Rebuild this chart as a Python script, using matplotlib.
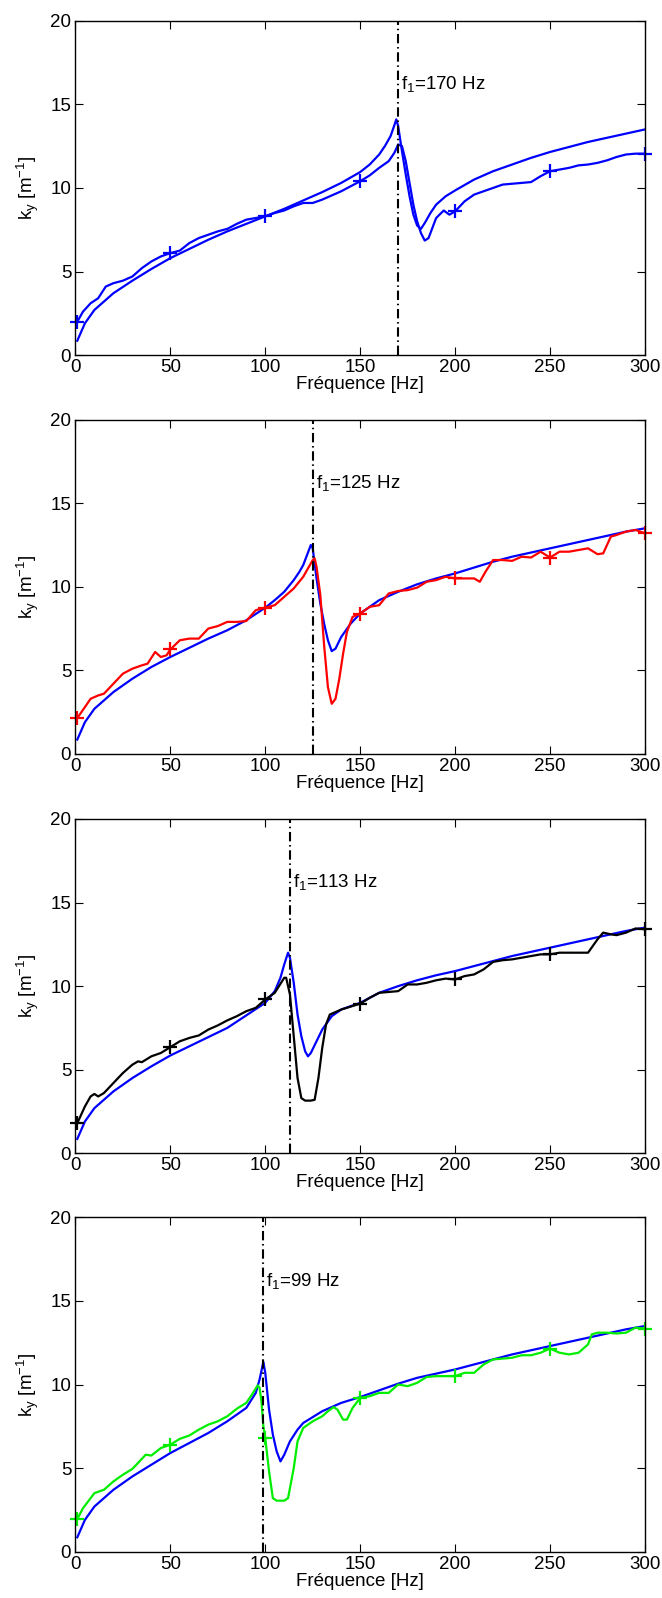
import matplotlib
matplotlib.use("Agg")
import matplotlib.pyplot as plt

# ── Style (MATLAB-like) ───────────────────────────────────────────────────────
FONT = "Liberation Sans"
FS = 13.5

plt.rcParams.update({
    "font.family": FONT,
    "font.size": FS,
    "mathtext.fontset": "custom",
    "mathtext.rm": FONT,
    "mathtext.default": "regular",
    "xtick.direction": "in",
    "ytick.direction": "in",
    "xtick.top": True,
    "ytick.right": True,
    "axes.linewidth": 1.0,
})

# ── Données ──────────────────────────────────────────────────────────────────
F1_VALUES = [170, 125, 113, 99]
MEAS_COLORS = ["#0000ff", "#ff0000", "#000000", "#00ee00"]
MODEL_COLOR = "#0000ff"
MARK_F = [1, 50, 100, 150, 200, 250, 300]

# panel 1 : f1 = 170 Hz
f_mod1 = [1, 5, 10, 20, 30, 40, 50, 60, 70, 80, 90, 100, 110, 120, 130, 140, 150,
          155, 160, 163, 166, 168, 169, 170, 172, 174, 176, 178, 180, 182, 184, 187,
          190, 195, 200, 210, 220, 230, 240, 250, 260, 270, 280, 290, 300]
k_mod1 = [0.86, 1.9, 2.7, 3.7, 4.45, 5.15, 5.8, 6.35, 6.9, 7.4, 7.85, 8.3, 8.75, 9.25,
          9.75, 10.3, 10.95, 11.4, 12.0, 12.5, 13.1, 13.75, 14.1, 13.7, 12.2, 10.8, 9.5,
          8.4, 7.75, 7.55, 7.9, 8.5, 9.0, 9.5, 9.85, 10.5, 11.0, 11.4, 11.8, 12.15, 12.45,
          12.75, 13.0, 13.25, 13.5]
f_mes1 = [1, 4, 8, 12, 16, 20, 25, 30, 35, 40, 45, 50, 55, 60, 65, 70, 75, 80, 85, 90,
          95, 100, 105, 110, 115, 120, 125, 130, 135, 140, 145, 150, 155, 160, 165, 168,
          170, 172, 174, 176, 178, 180, 182, 184, 186, 188, 190, 194, 197, 200, 205, 210,
          215, 220, 225, 230, 235, 240, 245, 250, 255, 260, 265, 270, 275, 280, 285, 290,
          295, 300]
k_mes1 = [2.0, 2.6, 3.1, 3.4, 4.1, 4.3, 4.45, 4.7, 5.2, 5.6, 5.9, 6.1, 6.25, 6.7, 7.0,
          7.2, 7.4, 7.55, 7.85, 8.1, 8.2, 8.3, 8.5, 8.65, 8.9, 9.1, 9.1, 9.3, 9.55, 9.8,
          10.1, 10.4, 10.75, 11.2, 11.6, 12.1, 12.6, 12.5, 11.6, 10.3, 9.0, 8.0, 7.3, 6.85,
          7.0, 7.6, 8.2, 8.65, 8.4, 8.6, 9.2, 9.6, 9.8, 10.0, 10.2, 10.25, 10.3, 10.35, 10.7,
          11.0, 11.1, 11.2, 11.35, 11.4, 11.5, 11.65, 11.85, 12.0, 12.05, 12.05]

# panel 2 : f1 = 125 Hz
f_mod2 = [1, 5, 10, 20, 30, 40, 50, 60, 70, 80, 90, 100, 105, 110, 115, 118, 120, 122,
          124, 125, 127, 129, 131, 133, 135, 137, 140, 145, 150, 160, 170, 180, 190, 200,
          210, 220, 230, 240, 250, 260, 270, 280, 290, 300]
k_mod2 = [0.86, 1.9, 2.7, 3.7, 4.5, 5.2, 5.8, 6.35, 6.9, 7.4, 8.0, 8.75, 9.2, 9.7, 10.4,
          10.9, 11.3, 11.9, 12.5, 12.3, 10.5, 9.0, 7.8, 6.8, 6.15, 6.3, 7.0, 7.8, 8.4, 9.2,
          9.7, 10.15, 10.5, 10.8, 11.15, 11.5, 11.8, 12.05, 12.3, 12.55, 12.8, 13.05, 13.3,
          13.5]
f_mes2 = [1, 5, 8, 12, 15, 20, 25, 30, 35, 38, 42, 45, 48, 50, 55, 60, 65, 70, 75, 80,
          85, 90, 95, 100, 105, 110, 115, 120, 123, 125, 126, 127, 129, 131, 133, 135, 137,
          139, 141, 143, 146, 150, 155, 160, 165, 170, 175, 180, 185, 190, 195, 200, 205,
          210, 213, 216, 220, 225, 230, 235, 240, 245, 250, 255, 260, 265, 270, 275, 278,
          282, 285, 290, 295, 300]
k_mes2 = [2.15, 2.8, 3.3, 3.5, 3.6, 4.2, 4.8, 5.1, 5.3, 5.4, 6.1, 5.8, 5.9, 6.25, 6.8,
          6.9, 6.9, 7.5, 7.65, 7.9, 7.9, 7.95, 8.6, 8.75, 8.9, 9.4, 9.9, 10.6, 11.2, 11.6,
          11.7, 11.2, 9.5, 6.5, 4.0, 3.0, 3.3, 4.5, 6.0, 7.3, 8.2, 8.4, 8.8, 8.9, 9.6, 9.75,
          9.8, 9.95, 10.3, 10.4, 10.6, 10.5, 10.5, 10.5, 10.3, 10.9, 11.6, 11.6, 11.55, 11.8,
          11.75, 12.1, 11.75, 12.1, 12.1, 12.2, 12.3, 11.95, 12.0, 13.0, 13.1, 13.3, 13.4,
          13.2]

# panel 3 : f1 = 113 Hz
f_mod3 = [1, 5, 10, 20, 30, 40, 50, 60, 70, 80, 90, 100, 105, 108, 110, 112, 113, 115,
          117, 119, 121, 122.5, 124, 127, 130, 135, 140, 150, 160, 170, 180, 190, 200, 210,
          220, 230, 240, 250, 260, 270, 280, 290, 300]
k_mod3 = [0.86, 1.9, 2.7, 3.7, 4.5, 5.2, 5.85, 6.4, 6.95, 7.5, 8.25, 9.0, 9.7, 10.5,
          11.3, 12.0, 11.7, 10.2, 8.3, 7.0, 6.1, 5.8, 6.0, 6.7, 7.4, 8.2, 8.6, 9.0, 9.6,
          10.0, 10.35, 10.65, 10.9, 11.2, 11.5, 11.8, 12.05, 12.3, 12.55, 12.8, 13.05, 13.3,
          13.5]
f_mes3 = [1, 5, 8, 10, 12, 15, 20, 25, 30, 33, 35, 40, 45, 50, 55, 60, 65, 70, 75, 80,
          85, 90, 95, 100, 105, 110, 111, 113, 115, 117, 119, 121, 124, 126, 128, 130, 132,
          134, 140, 150, 155, 160, 165, 170, 175, 180, 185, 190, 195, 200, 205, 210, 215,
          220, 225, 230, 235, 240, 245, 250, 255, 260, 265, 270, 275, 278, 282, 285, 290,
          295, 300]
k_mes3 = [1.8, 2.8, 3.4, 3.55, 3.4, 3.6, 4.2, 4.8, 5.3, 5.5, 5.45, 5.8, 6.0, 6.35, 6.7,
          6.9, 7.05, 7.4, 7.65, 7.95, 8.2, 8.5, 8.7, 9.2, 9.6, 10.5, 10.5, 9.5, 7.0, 4.5,
          3.3, 3.15, 3.15, 3.2, 4.5, 6.3, 7.7, 8.3, 8.6, 8.95, 9.3, 9.6, 9.65, 9.7, 10.1,
          10.1, 10.2, 10.35, 10.45, 10.4, 10.6, 10.7, 11.0, 11.45, 11.55, 11.6, 11.7, 11.8,
          11.9, 11.9, 12.0, 12.0, 12.0, 12.0, 12.8, 13.2, 13.1, 13.05, 13.2, 13.45, 13.4]

# panel 4 : f1 = 99 Hz
f_mod4 = [1, 5, 10, 20, 30, 40, 50, 60, 70, 80, 90, 95, 97, 99, 100, 102, 104, 106, 108,
          110, 113, 117, 120, 130, 140, 150, 160, 170, 180, 190, 200, 210, 220, 230, 240,
          250, 260, 270, 280, 290, 300]
k_mod4 = [0.86, 1.9, 2.7, 3.7, 4.5, 5.2, 5.9, 6.5, 7.1, 7.8, 8.6, 9.5, 10.3, 11.35, 10.7,
          8.5, 7.0, 6.0, 5.4, 5.8, 6.6, 7.3, 7.7, 8.4, 8.9, 9.25, 9.65, 10.05, 10.4, 10.65,
          10.9, 11.2, 11.5, 11.8, 12.05, 12.3, 12.55, 12.8, 13.05, 13.3, 13.5]
f_mes4 = [1, 4, 8, 10, 15, 20, 25, 30, 35, 37, 40, 45, 50, 55, 60, 65, 70, 75, 80, 85,
          90, 93, 96, 97, 98, 99, 100, 102, 104, 106, 110, 112, 115, 117, 120, 125, 130,
          133, 136, 138, 141, 143, 146, 150, 155, 160, 165, 170, 175, 180, 185, 190, 195,
          200, 205, 210, 215, 220, 225, 230, 235, 240, 245, 250, 255, 260, 265, 270, 272,
          275, 280, 285, 290, 295, 300]
k_mes4 = [1.95, 2.6, 3.2, 3.5, 3.7, 4.2, 4.6, 4.95, 5.55, 5.8, 5.75, 6.2, 6.4, 6.75,
          6.95, 7.3, 7.6, 7.8, 8.1, 8.55, 8.9, 9.4, 9.95, 9.8, 9.0, 7.5, 6.8, 4.8, 3.2,
          3.05, 3.05, 3.2, 5.0, 6.6, 7.4, 7.8, 8.1, 8.4, 8.65, 8.5, 7.9, 7.9, 8.6, 9.2,
          9.3, 9.5, 9.5, 10.0, 9.9, 10.1, 10.45, 10.5, 10.5, 10.5, 10.7, 10.7, 11.2, 11.5,
          11.55, 11.6, 11.75, 11.75, 11.9, 12.15, 11.9, 11.8, 11.9, 12.4, 13.0, 13.1, 13.1,
          13.05, 13.1, 13.4, 13.35]

MODELS = [(f_mod1, k_mod1), (f_mod2, k_mod2), (f_mod3, k_mod3), (f_mod4, k_mod4)]
MEASURES = [(f_mes1, k_mes1), (f_mes2, k_mes2), (f_mes3, k_mes3), (f_mes4, k_mes4)]

# ── Figure ───────────────────────────────────────────────────────────────────
fig = plt.figure(figsize=(6.62, 15.98), dpi=100)
bottoms = [0.7778, 0.5282, 0.2783, 0.0290]

for i, bottom in enumerate(bottoms):
    ax = fig.add_axes([0.1139, bottom, 0.8604, 0.2092])
    f_mod, k_mod = MODELS[i]
    f_mes, k_mes = MEASURES[i]
    marks = [j for j, f in enumerate(f_mes) if f in MARK_F]

    ax.plot(f_mod, k_mod, color=MODEL_COLOR, lw=1.6)
    ax.plot(f_mes, k_mes, color=MEAS_COLORS[i], lw=1.6, marker="+",
            markersize=10, markeredgewidth=1.6, markevery=marks, clip_on=False)
    ax.axvline(F1_VALUES[i], color="black", ls=(0, (4.5, 1.8, 0.7, 1.8)), lw=1.5)
    ax.text(F1_VALUES[i] + 1.5, 16.2, f"f$_1$={F1_VALUES[i]} Hz",
            ha="left", va="center", fontsize=FS)

    ax.set_xlim(0, 300)
    ax.set_ylim(0, 20)
    ax.set_xticks(range(0, 301, 50))
    ax.set_yticks(range(0, 21, 5))
    ax.tick_params(length=6, width=0.8, labelsize=FS, pad=3)
    ax.set_xlabel("Fréquence [Hz]", fontsize=FS, labelpad=0)
    ax.set_ylabel("k$_y$ [m$^{-1}$]", fontsize=FS, labelpad=7)

fig.savefig("out.png", dpi=100, facecolor="white")
